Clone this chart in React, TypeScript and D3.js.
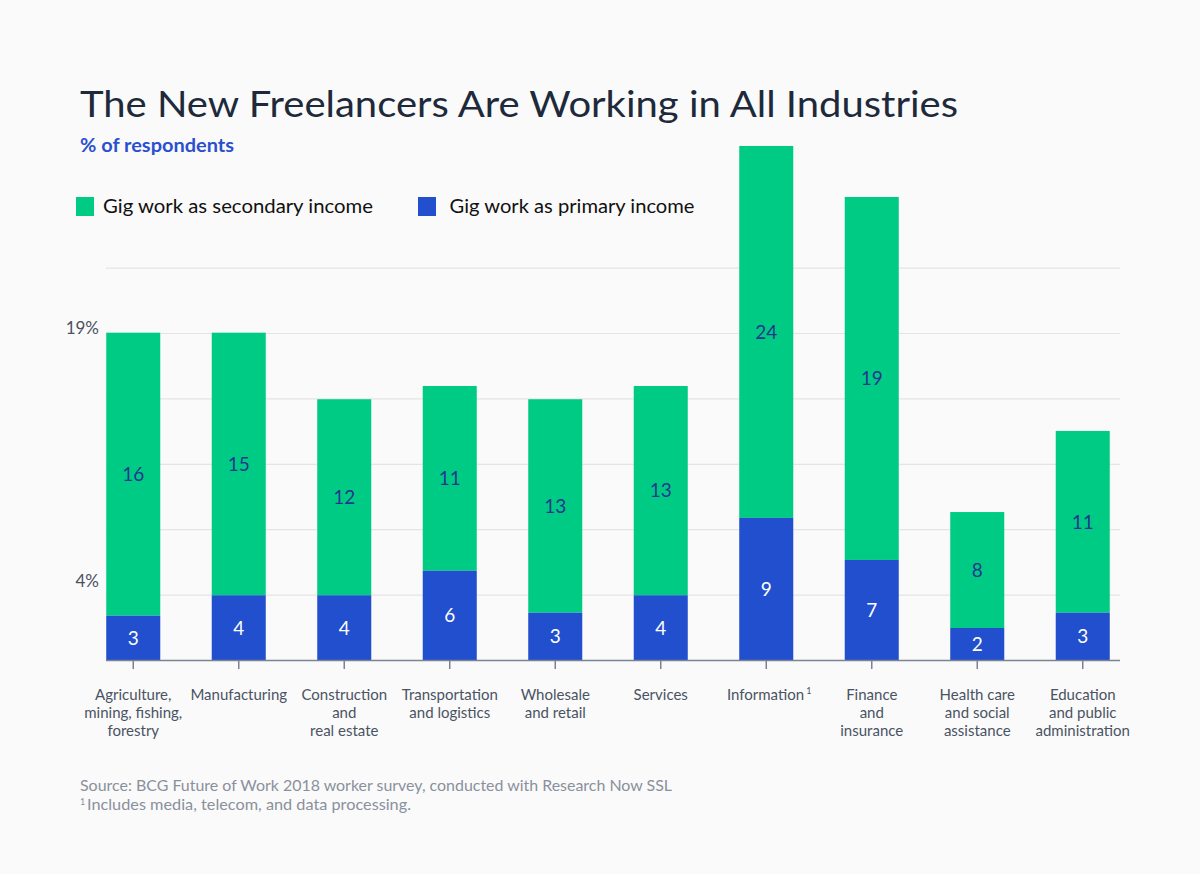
import React from "react";
import * as d3 from "d3";

const categories = [
  "Agriculture",
  "Manufacturing",
  "Construction",
  "Transportation",
  "Wholesale",
  "Services",
  "Information",
  "Finance",
  "Health care",
  "Education",
];
const categoryLines: string[][] = [
  ["Agriculture,", "mining, fishing,", "forestry"],
  ["Manufacturing"],
  ["Construction", "and", "real estate"],
  ["Transportation", "and logistics"],
  ["Wholesale", "and retail"],
  ["Services"],
  ["Information"],
  ["Finance", "and", "insurance"],
  ["Health care", "and social", "assistance"],
  ["Education", "and public", "administration"],
];
const footnoteMark = [false, false, false, false, false, false, true, false, false, false];

// bar heights (axis units)
const primaryValues = [2.74, 3.99, 3.99, 5.49, 2.92, 3.99, 8.72, 6.15, 1.99, 2.92];
const secondaryValues = [17.31, 16.06, 11.99, 11.3, 13.06, 12.8, 22.75, 22.2, 7.09, 11.12];
// printed labels
const primaryLabels = ["3", "4", "4", "6", "3", "4", "9", "7", "2", "3"];
const secondaryLabels = ["16", "15", "12", "11", "13", "13", "24", "19", "8", "11"];

const gridValues = [4, 8, 12, 16, 20, 24];
const tickLabelValues = [4, 20];
const tickLabelTexts = ["4%", "19%"];

const seriesNames = ["Gig work as secondary income", "Gig work as primary income"];

const GREEN = "#00cb84";
const BLUE = "#214fcd";
const FONT = "Lato, 'Open Sans', sans-serif";

export default function App() {
  const W = 1200;
  const H = 874;
  const x = d3
    .scaleBand<string>()
    .domain(categories)
    .range([80.5, 1135.5])
    .paddingInner(0.488)
    .paddingOuter(0.244);
  const y = d3.scaleLinear().domain([0, 24]).range([660.5, 660.5 - 24 * 16.35]);
  const bw = x.bandwidth();

  return (
    <svg width={W} height={H} style={{ display: "block", position: "absolute", left: 0, top: 0 }} fontFamily={FONT}>
      <rect x={0} y={0} width={W} height={H} fill="#fafafa" />
      <text x={80} y={117} fontSize={36} fill="#1e2a3b" textLength={878} lengthAdjust="spacingAndGlyphs">
        The New Freelancers Are Working in All Industries
      </text>
      <text x={80} y={152} fontSize={18} fontWeight={700} fill="#2a50d0" textLength={154} lengthAdjust="spacingAndGlyphs">
        % of respondents
      </text>

      {/* legend */}
      <rect x={76} y={197} width={18} height={19} fill={GREEN} />
      <text x={103} y={212.5} fontSize={18.5} fill="#111" textLength={270} lengthAdjust="spacingAndGlyphs">
        {seriesNames[0]}
      </text>
      <rect x={418} y={197} width={18} height={19} fill={BLUE} />
      <text x={449.5} y={212.5} fontSize={18.5} fill="#111" textLength={245} lengthAdjust="spacingAndGlyphs">
        {seriesNames[1]}
      </text>

      {/* grid */}
      {gridValues.map((g) => (
        <line key={g} x1={106} x2={1120} y1={y(g)} y2={y(g)} stroke="#e4e4e4" strokeWidth={1.2} />
      ))}
      {tickLabelValues.map((v, i) => (
        <text
          key={v}
          x={99}
          y={y(v) - (i === 0 ? 8 : 0)}
          textAnchor="end"
          fontSize={17}
          fill="#4a5162"
        >
          {tickLabelTexts[i]}
        </text>
      ))}

      {/* bars */}
      {categories.map((c, i) => {
        const x0 = x(c)!;
        const p = primaryValues[i];
        const s = secondaryValues[i];
        const yP = y(p);
        const yT = y(p + s);
        return (
          <g key={c}>
            <rect x={x0} y={yT} width={bw} height={yP - yT} fill={GREEN} />
            <rect x={x0} y={yP} width={bw} height={y(0) - yP} fill={BLUE} />
            <text
              x={x0 + bw / 2}
              y={(yT + yP) / 2}
              dy="0.35em"
              textAnchor="middle"
              fontSize={19}
              fill="#22388f"
            >
              {secondaryLabels[i]}
            </text>
            <text
              x={x0 + bw / 2}
              y={(yP + y(0)) / 2}
              dy="0.35em"
              textAnchor="middle"
              fontSize={19}
              fill="#ffffff"
            >
              {primaryLabels[i]}
            </text>
          </g>
        );
      })}

      {/* x axis */}
      <line x1={106} x2={1120} y1={660.5} y2={660.5} stroke="#7b8394" strokeWidth={1.5} />
      {categories.map((c, i) => {
        const cx = x(c)! + bw / 2;
        return (
          <g key={c}>
            <line x1={cx} x2={cx} y1={660.5} y2={669} stroke="#7b8394" strokeWidth={1.5} />
            <text textAnchor="middle" fontSize={15} fill="#4a5363">
              {categoryLines[i].map((ln, j) => (
                <tspan key={j} x={cx + (footnoteMark[i] ? 3 : 0)} y={700 + j * 18}>
                  {ln}
                  {footnoteMark[i] && j === 0 ? (
                    <tspan fontSize={9} dy={-6}>
                      {" 1"}
                    </tspan>
                  ) : null}
                </tspan>
              ))}
            </text>
          </g>
        );
      })}

      {/* footer */}
      <text x={80} y={791} fontSize={15} fill="#8a909c" textLength={592} lengthAdjust="spacingAndGlyphs">
        Source: BCG Future of Work 2018 worker survey, conducted with Research Now SSL
      </text>
      <text x={80} y={805} fontSize={9} fill="#8a909c">1</text>
      <text x={87} y={810} fontSize={15} fill="#8a909c" textLength={324} lengthAdjust="spacingAndGlyphs">
        Includes media, telecom, and data processing.
      </text>
    </svg>
  );
}
